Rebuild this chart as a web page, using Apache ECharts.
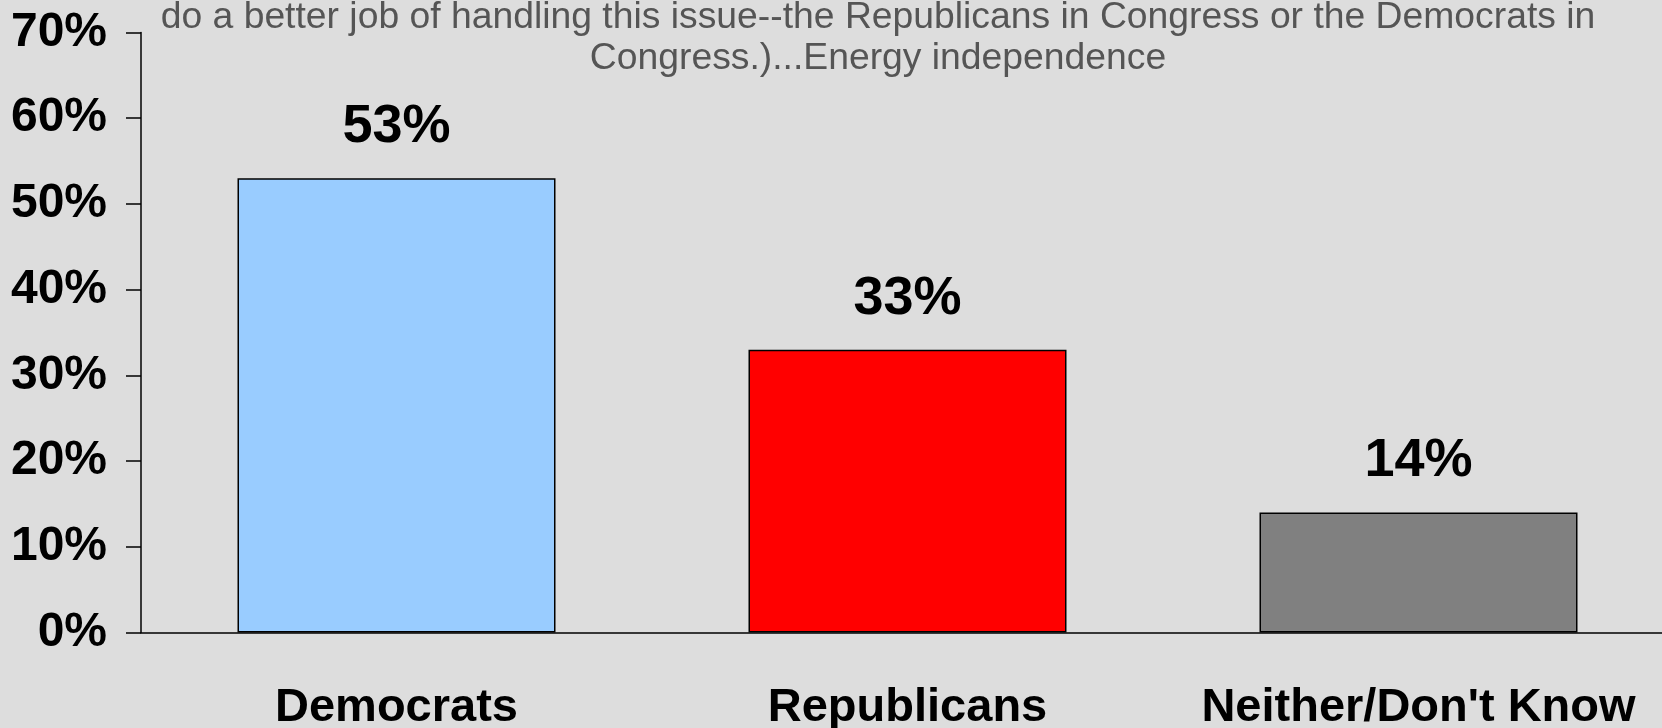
<!DOCTYPE html>
<html>
<head>
<meta charset="utf-8">
<script src="https://cdn.jsdelivr.net/npm/echarts@6/dist/echarts.min.js"></script>
<style>
html,body{margin:0;padding:0;background:#dddddd;}
#chart{width:1662px;height:728px;}
</style>
</head>
<body>
<div id="chart"></div>
<script>
var titleLines = [
  "do a better job of handling this issue--the Republicans in Congress or the Democrats in",
  "Congress.)...Energy independence"
];
var categories = ["Democrats", "Republicans", "Neither/Don't Know"];
var values = [53, 33, 14];
var barColors = ["#99ccff", "#ff0000", "#808080"];
var yTicks = [0, 10, 20, 30, 40, 50, 60, 70];

var font = "'Liberation Sans', Arial, sans-serif";
var chart = echarts.init(document.getElementById('chart'));
chart.setOption({
  backgroundColor: '#dddddd',
  animation: false,
  title: {
    text: titleLines.join('\n'),
    left: 873,
    top: -8,
    textAlign: 'center',
    textStyle: {
      fontFamily: font,
      fontSize: 37.3,
      fontWeight: 'normal',
      color: '#555555',
      lineHeight: 41
    }
  },
  grid: { left: 141, width: 1533, top: 32.5, height: 600, containLabel: false, outerBoundsMode: 'none' },
  xAxis: {
    type: 'category',
    data: categories,
    axisLine: { lineStyle: { color: '#000', width: 1.5 } },
    axisTick: { length: 15, lineStyle: { color: '#000', width: 1.5 } },
    axisLabel: {
      interval: 0,
      margin: 52,
      fontFamily: font,
      fontSize: 47,
      fontWeight: 'bold',
      color: '#000'
    }
  },
  yAxis: {
    type: 'value',
    min: yTicks[0],
    max: yTicks[yTicks.length - 1],
    interval: 10,
    splitLine: { show: false },
    axisLine: { show: true, lineStyle: { color: '#000', width: 1.5 } },
    axisTick: { show: true, length: 15, lineStyle: { color: '#000', width: 1.5 } },
    axisLabel: {
      margin: 34,
      formatter: '{value}%',
      fontFamily: font,
      fontSize: 48,
      fontWeight: 'bold',
      color: '#000'
    }
  },
  series: [{
    type: 'bar',
    data: values.map(function (v, i) {
      return { value: v, itemStyle: { color: barColors[i] } };
    }),
    barWidth: 318,
    itemStyle: { borderColor: '#000', borderWidth: 1.5 },
    label: {
      show: true,
      position: 'top',
      distance: 24,
      formatter: '{c}%',
      fontFamily: font,
      fontSize: 54,
      fontWeight: 'bold',
      color: '#000'
    }
  }]
});
</script>
</body>
</html>
